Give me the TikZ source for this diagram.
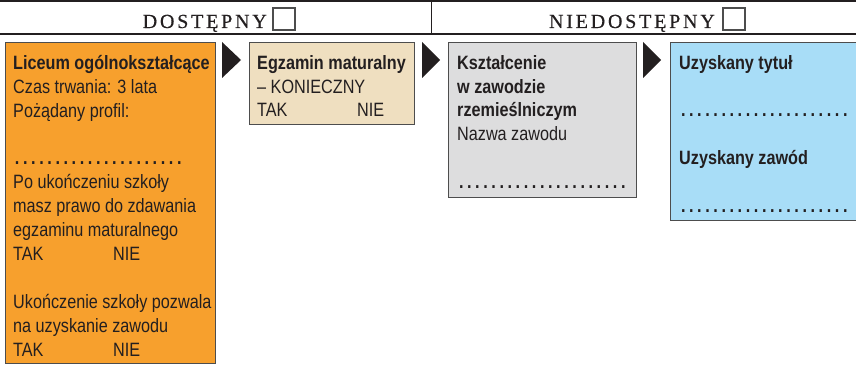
\documentclass[tikz,border=0pt]{standalone}
\usepackage{fontspec}
\setmainfont[FakeStretch=0.84]{Liberation Sans}
\newfontfamily\headfont[LetterSpace=14,FakeBold=0.5]{Liberation Serif}
\definecolor{orangeC}{HTML}{F7A02D}
\definecolor{beigeC}{HTML}{EFDFC0}
\definecolor{grayC}{HTML}{DDDDDE}
\definecolor{blueC}{HTML}{A8DDF7}
\definecolor{inkC}{HTML}{231F20}
\definecolor{edgeC}{HTML}{4D4D4D}
\newcommand{\dotrow}{\leaders\hbox to 8.1pt{\hss\textbf{.}\hss}\hskip 170.1pt\mbox{}}
\newcommand{\firstline}{\rule{0pt}{15pt}}
\begin{document}
\begin{tikzpicture}[x=1pt,y=-1pt,
  panel/.style={draw=edgeC, line width=1.3pt, anchor=north west, inner sep=0pt},
  txt/.style={anchor=north west, inner sep=0pt, align=left, text=inkC,
    font=\fontsize{19.3}{23.9}\selectfont},
  headtxt/.style={anchor=base east, inner sep=0pt, text=inkC,
    font=\headfont\fontsize{20}{24}\selectfont},
  check/.style={draw=edgeC, line width=1.2pt, minimum width=22pt, minimum height=22pt, inner sep=0pt},
  tri/.style={fill=inkC, draw=none}]
\useasboundingbox (0,0) rectangle (856,366);

% header
\coordinate (hl) at (0,1);
\coordinate (hr) at (856,1);
\coordinate (bl) at (0,34);
\coordinate (br) at (856,34);
\coordinate (vt) at (431,1);
\coordinate (vb) at (431,34);
\draw[inkC, line width=1.6pt] (hl) -- (hr);
\draw[inkC, line width=1.6pt] (bl) -- (br);
\draw[inkC, line width=1pt] (vt) -- (vb);
\node[headtxt] (h1) at (267,28) {DOSTĘPNY};
\node[check] (c1) at (284,19) {};
\node[headtxt] (h2) at (715,28) {NIEDOSTĘPNY};
\node[check] (c2) at (734,19) {};

% panels
\node[panel, fill=orangeC, minimum width=210pt, minimum height=321pt] (lic) at (5,42) {};
\node[panel, fill=beigeC, minimum width=165pt, minimum height=82pt] (egz) at (249,42) {};
\node[panel, fill=grayC, minimum width=188pt, minimum height=155pt] (ksz) at (448,42) {};
\node[panel, fill=blueC, minimum width=200pt, minimum height=178pt] (uzy) at (670,42) {};

% arrows (triangles)
\fill[tri] (222,42) -- (241,60) -- (222,78) -- cycle;
\fill[tri] (422,42) -- (440,60) -- (422,78) -- cycle;
\fill[tri] (643,42) -- (661,60) -- (643,78) -- cycle;

% texts
\node[txt] (t1) at (13,54) {\firstline\textbf{Liceum ogólnokształcące}\\
Czas trwania: 3 lata\\
Pożądany profil:\\[23.9pt]
\dotrow\\
Po ukończeniu szkoły\\
masz prawo do zdawania\\
egzaminu maturalnego\\
TAK\\[-23.9pt]
\hspace*{100pt}NIE\\[23.9pt]
Ukończenie szkoły pozwala\\
na uzyskanie zawodu\\
TAK\\[-23.9pt]
\hspace*{100pt}NIE};

\node[txt] (t2) at (257,54) {\firstline\textbf{Egzamin maturalny}\\
– KONIECZNY\\
TAK\\[-23.9pt]
\hspace*{100pt}NIE};

\node[txt] (t3) at (457,54) {\firstline\textbf{Kształcenie}\\
\textbf{w zawodzie}\\
\textbf{rzemieślniczym}\\
Nazwa zawodu\\[23.9pt]
\dotrow};

\node[txt] (t4) at (679,54) {\firstline\textbf{Uzyskany tytuł}\\[23.9pt]
\dotrow\\[23.9pt]
\textbf{Uzyskany zawód}\\[23.9pt]
\dotrow};
\end{tikzpicture}
\end{document}
